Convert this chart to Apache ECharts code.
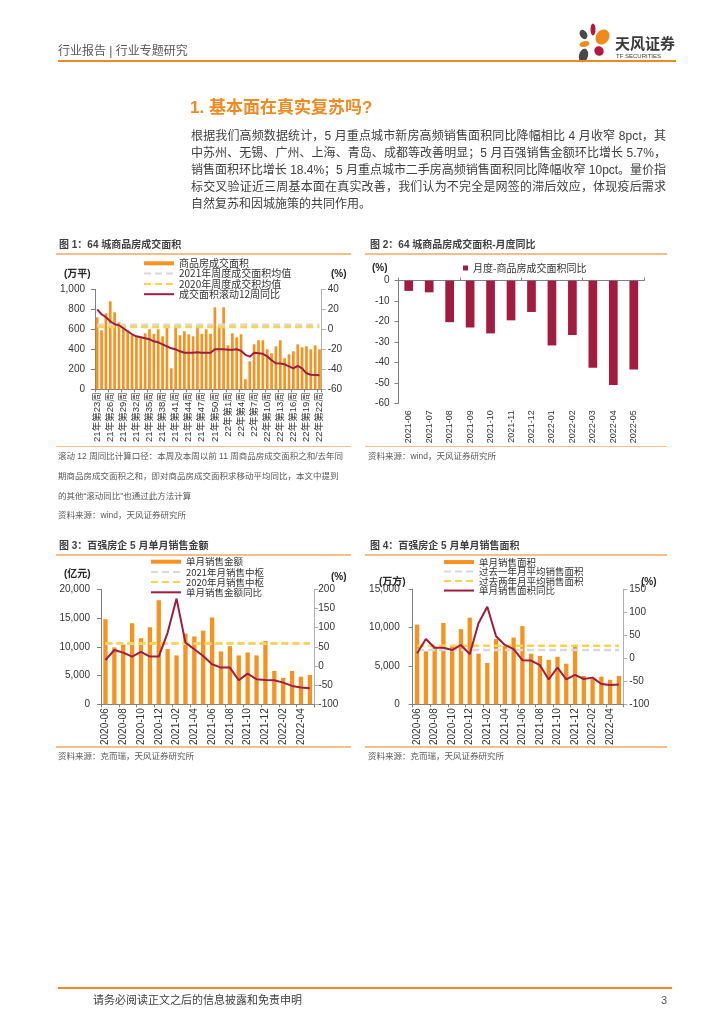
<!DOCTYPE html>
<html lang="zh-CN">
<head>
<meta charset="utf-8">
<title>基本面在真实复苏吗</title>
<script src="https://cdn.jsdelivr.net/npm/echarts/dist/echarts.min.js"></script>
<style>
  html, body { margin:0; padding:0; background:#fff; }
  #page { position:relative; width:724px; height:1024px; overflow:hidden; background:#fff;
          font-family:"Liberation Sans","Noto Sans CJK SC",sans-serif; }
  #chart { position:absolute; left:0; top:0; width:724px; height:1024px; z-index:1; }
  .t { position:absolute; white-space:nowrap; z-index:2; }
  .rule { position:absolute; z-index:2; }
  .p { position:absolute; left:191px; font-size:12px; height:17px; line-height:17px;
       color:#404040; white-space:nowrap; z-index:2; }
  .figt { font-size:10px; font-weight:bold; color:#404040; line-height:14px; height:14px; }
  .note { font-size:8.5px; color:#595959; line-height:12px; height:12px; }
  .unit { font-size:10px; color:#262626; line-height:12px; height:12px; font-weight:bold; }
</style>
</head>
<body>
<div id="page">
  <div id="chart"></div>

  <!-- header -->
  <div class="t" style="left:58px;top:43px;font-size:12px;line-height:16px;color:#595959;">行业报告 | 行业专题研究</div>
  <svg class="t" style="left:570px;top:20px;" width="50" height="46" viewBox="570 20 50 46">
    <ellipse cx="583.5" cy="34.5" rx="3.5" ry="5" fill="#4a4a4a" transform="rotate(-30 583.5 34.5)"/>
    <ellipse cx="593" cy="29.5" rx="2.5" ry="6" fill="#B5173D"/>
    <ellipse cx="602.5" cy="37" rx="6.5" ry="8" fill="#F08A1C" transform="rotate(35 602.5 37)"/>
    <ellipse cx="584.5" cy="44" rx="5" ry="2.8" fill="#F08A1C" transform="rotate(-15 584.5 44)"/>
    <ellipse cx="599" cy="51" rx="4.5" ry="5" fill="#B5173D" transform="rotate(-40 599 51)"/>
    <ellipse cx="583.5" cy="55.5" rx="4.5" ry="7" fill="#4a4a4a" transform="rotate(15 583.5 55.5)"/>
  </svg>
  <div class="t" style="left:615px;top:35px;font-size:15px;line-height:18px;font-weight:bold;color:#3a3a3a;">天风证券</div>
  <div class="t" style="left:616px;top:52.5px;font-size:6px;line-height:7px;color:#3a3a3a;">TF SECURITIES</div>
  <div class="rule" style="left:58px;top:60px;width:618px;height:2px;background:#EE8A23;"></div>

  <!-- title & paragraph -->
  <div class="t" style="left:190px;top:97px;font-size:17px;line-height:22px;font-weight:bold;color:#F18A21;">1. 基本面在真实复苏吗?</div>
  <div class="p jus" style="top:128px;">根据我们高频数据统计，5 月重点城市新房高频销售面积同比降幅相比 4 月收窄 8pct，其</div>
  <div class="p jus" style="top:145px;">中苏州、无锡、广州、上海、青岛、成都等改善明显；5 月百强销售金额环比增长 5.7%，</div>
  <div class="p jus" style="top:162px;">销售面积环比增长 18.4%；5 月重点城市二手房高频销售面积同比降幅收窄 10pct。量价指</div>
  <div class="p jus" style="top:179px;">标交叉验证近三周基本面在真实改善，我们认为不完全是网签的滞后效应，体现疫后需求</div>
  <div class="p" style="top:196px;">自然复苏和因城施策的共同作用。</div>

  <!-- figure titles row 1 -->
  <div class="t figt" style="left:59px;top:238px;">图 1：64 城商品房成交面积</div>
  <div class="t figt" style="left:370px;top:238px;">图 2：64 城商品房成交面积-月度同比</div>
  <div class="rule" style="left:56px;top:253px;width:295px;height:1.5px;background:#F7BE8A;"></div>
  <div class="rule" style="left:365px;top:253px;width:302px;height:1.5px;background:#F7BE8A;"></div>

  <div class="t unit" style="left:64px;top:268px;">(万平)</div>
  <div class="t unit" style="left:331px;top:268px;">(%)</div>
  <div class="t unit" style="left:372px;top:262px;">(%)</div>

  <div class="rule" style="left:56px;top:445.5px;width:295px;height:1.5px;background:#F7BE8A;"></div>
  <div class="rule" style="left:365px;top:445.5px;width:302px;height:1.5px;background:#F7BE8A;"></div>

  <div class="t note" style="left:58px;top:450px;">滚动 12 周同比计算口径：本周及本周以前 11 周商品房成交面积之和/去年同</div>
  <div class="t note" style="left:58px;top:470px;">期商品房成交面积之和，即对商品房成交面积求移动平均同比，本文中提到</div>
  <div class="t note" style="left:58px;top:490px;">的其他“滚动同比”也通过此方法计算</div>
  <div class="t note" style="left:58px;top:509px;">资料来源：wind，天风证券研究所</div>
  <div class="t note" style="left:368px;top:450px;">资料来源：wind，天风证券研究所</div>

  <!-- figure titles row 2 -->
  <div class="t figt" style="left:59px;top:539px;">图 3：百强房企 5 月单月销售金额</div>
  <div class="t figt" style="left:370px;top:539px;">图 4：百强房企 5 月单月销售面积</div>
  <div class="rule" style="left:56px;top:554px;width:295px;height:1.5px;background:#F7BE8A;"></div>
  <div class="rule" style="left:365px;top:554px;width:302px;height:1.5px;background:#F7BE8A;"></div>

  <div class="t unit" style="left:64px;top:568px;">(亿元)</div>
  <div class="t unit" style="left:331px;top:571px;">(%)</div>
  <div class="t unit" style="left:379px;top:576px;">(万方)</div>
  <div class="t unit" style="left:641px;top:576px;">(%)</div>

  <div class="rule" style="left:56px;top:746px;width:295px;height:1.5px;background:#F7BE8A;"></div>
  <div class="rule" style="left:365px;top:746px;width:302px;height:1.5px;background:#F7BE8A;"></div>
  <div class="t note" style="left:58px;top:750px;">资料来源：克而瑞，天风证券研究所</div>
  <div class="t note" style="left:368px;top:750px;">资料来源：克而瑞，天风证券研究所</div>

  <!-- footer -->
  <div class="rule" style="left:58px;top:987px;width:614px;height:2px;background:#EE8A23;"></div>
  <div class="t" style="left:93px;top:993px;font-size:11px;line-height:14px;color:#404040;">请务必阅读正文之后的信息披露和免责申明</div>
  <div class="t" style="left:661px;top:993px;font-size:11px;line-height:14px;color:#595959;">3</div>
</div>

<script>
// ---------- data ----------
const weeks1 = ['21年第23周','21年第24周','21年第25周','21年第26周','21年第27周','21年第28周','21年第29周','21年第30周','21年第31周','21年第32周',
  '21年第33周','21年第34周','21年第35周','21年第36周','21年第37周','21年第38周','21年第39周','21年第40周','21年第41周','21年第42周',
  '21年第43周','21年第44周','21年第45周','21年第46周','21年第47周','21年第48周','21年第49周','21年第50周','21年第51周','21年第52周',
  '22年第1周','22年第2周','22年第3周','22年第4周','22年第5周','22年第6周','22年第7周','22年第8周','22年第9周','22年第10周',
  '22年第11周','22年第12周','22年第13周','22年第14周','22年第15周','22年第16周','22年第17周','22年第18周','22年第19周','22年第20周',
  '22年第21周','22年第22周'];
const area1 = [720,590,760,880,770,670,610,590,540,530,530,560,600,555,600,530,650,210,640,540,
  580,550,530,630,555,600,555,820,650,820,440,560,520,550,100,280,450,490,490,400,
  360,430,490,310,350,380,450,420,430,400,440,400];
const avg2021_1 = 645;
const avg2020_1 = 622;
const roll12_1 = [20,15,12,8,5,4,1,-2,-5,-7,-8,-9,-10,-12,-13,-15,-17,-19,-20,-22,
  -23.5,-23.5,-23.5,-23,-23.5,-23.5,-23.5,-20,-20,-20,-20.5,-20.5,-20,-21.5,-25.5,-27.4,-23.5,-24,-24.5,-27,
  -31,-34,-34.3,-35,-37,-39,-36.5,-39,-44,-45.5,-45.7,-46];

const months2 = ['2021-06','2021-07','2021-08','2021-09','2021-10','2021-11','2021-12','2022-01','2022-02','2022-03','2022-04','2022-05'];
const yoy2 = [-5.0,-5.7,-20.3,-22.9,-25.8,-19.4,-15.3,-31.7,-26.6,-42.6,-51.1,-43.4];

const months3 = ['2020-06','2020-07','2020-08','2020-09','2020-10','2020-11','2020-12','2021-01','2021-02','2021-03','2021-04','2021-05',
  '2021-06','2021-07','2021-08','2021-09','2021-10','2021-11','2021-12','2022-01','2022-02','2022-03','2022-04','2022-05'];
const sales3 = [14800,9900,10400,14100,11500,13400,18100,9600,8500,12300,11800,12800,
  15100,9200,10100,8500,9000,8500,11000,5800,4600,5800,4800,5100];
const center2021_3 = 10530;
const center2020_3 = 10600;
const yoy3 = [15.6,41.7,34.9,24.5,36.5,24.5,24.5,87,175.8,61,43.5,26,
  4.4,-4.3,-4.3,-37.3,-20,-34.7,-36.5,-37.3,-43.5,-52,-56.3,-58];

const months4 = months3;
const area4 = [10400,6900,7500,10600,7700,9800,11300,6600,5400,8500,7600,8700,
  10200,6600,6300,5800,6200,5300,7500,3700,3300,3600,3200,3700];
const avg1y4 = 7080;
const avg2y4 = 7640;
const yoy4 = [11,42,23,23,18,29,9,76,112,48,29,20,
  -4,-5,-15,-46,-20,-46,-36,-45,-42,-56,-58,-57];

// ---------- paragraph justification (fit each full line to the text column) ----------
document.querySelectorAll('.p.jus').forEach(el => {
  const target = 475;
  const n = Array.from(el.textContent).length;
  const w = el.getBoundingClientRect().width;
  el.style.letterSpacing = ((target - w) / (n - 1)).toFixed(3) + 'px';
});

// ---------- styles ----------
const ORANGE = '#F7921E', RED = '#A01C3F', CRIMSON = '#A21C41', GRAYD = '#D9D9D9', YELLOW = '#FFD24D';
const FONT = 'Liberation Sans, Noto Sans CJK SC, sans-serif';
const LFONT = 'Noto Sans CJK SC, sans-serif';
const AXC = '#808080', AXR = '#B0B0B0';
const thousands = v => String(v).replace(/\B(?=(\d{3})+(?!\d))/g, ',');
const lbl = (o) => Object.assign({fontFamily: FONT, color: '#333', fontSize: 10}, o);
const noSym = name => ({name: name, itemStyle: {opacity: 0}});

function catAxis(gi, data, o) {
  return Object.assign({
    type: 'category', gridIndex: gi, data: data, boundaryGap: true,
    axisLine: {onZero: false, lineStyle: {color: AXC, width: 1}},
    axisTick: {show: true, length: 3, lineStyle: {color: AXC}},
    splitLine: {show: false}
  }, o);
}
function valAxis(gi, min, max, interval, o) {
  return Object.assign({
    type: 'value', gridIndex: gi, min: min, max: max, interval: interval,
    splitLine: {show: false},
    axisLine: {show: true, lineStyle: {color: AXC, width: 1}},
    axisTick: {show: true, length: 4, inside: false, lineStyle: {color: AXC}}
  }, o);
}
const constLine = (cats, v) => cats.map(() => v);

const chart = echarts.init(document.getElementById('chart'), null, {renderer: 'canvas'});
const option = {
  animation: false,
  backgroundColor: 'transparent',
  grid: [
    {left: 95, top: 289.3, width: 226.7, height: 100, outerBoundsMode: 'none'},
    {left: 398.5, top: 280.7, width: 245.5, height: 122.6, outerBoundsMode: 'none'},
    {left: 101, top: 589.3, width: 213.3, height: 115, outerBoundsMode: 'none'},
    {left: 412.7, top: 589.3, width: 210.6, height: 115, outerBoundsMode: 'none'}
  ],
  xAxis: [
    catAxis(0, weeks1, {
      axisTick: {show: true, interval: 2, length: 3, lineStyle: {color: AXC}},
      axisLabel: lbl({interval: 2, rotate: 90, margin: 3, fontSize: 9.5})
    }),
    catAxis(1, months2, {
      position: 'top',
      axisLabel: {show: false}
    }),
    catAxis(1, months2, {
      position: 'bottom',
      axisLine: {show: false, onZero: false}, axisTick: {show: false},
      axisLabel: lbl({interval: 0, rotate: 90, margin: 7, fontSize: 9})
    }),
    catAxis(2, months3, {
      axisTick: {show: true, interval: 1, length: 3, lineStyle: {color: AXC}},
      axisLabel: lbl({interval: 1, rotate: 90, margin: 4, fontSize: 10})
    }),
    catAxis(3, months4, {
      axisTick: {show: true, interval: 1, length: 3, lineStyle: {color: AXC}},
      axisLabel: lbl({interval: 1, rotate: 90, margin: 4, fontSize: 10})
    })
  ],
  yAxis: [
    valAxis(0, 0, 1000, 200, {position: 'left', axisLabel: lbl({margin: 10, formatter: thousands})}),
    valAxis(0, -60, 40, 20, {position: 'right',
      axisLine: {show: true, lineStyle: {color: AXR}}, axisTick: {show: true, length: 4, lineStyle: {color: AXR}},
      axisLabel: lbl({margin: 6})}),
    valAxis(1, -60, 0, 10, {position: 'left', axisLabel: lbl({margin: 9})}),
    valAxis(2, 0, 20000, 5000, {position: 'left', axisLabel: lbl({margin: 11, formatter: thousands})}),
    valAxis(2, -100, 200, 50, {position: 'right',
      axisLine: {show: true, lineStyle: {color: AXR}}, axisTick: {show: true, length: 4, lineStyle: {color: AXR}},
      axisLabel: lbl({margin: 4})}),
    valAxis(3, 0, 15000, 5000, {position: 'left', axisLabel: lbl({margin: 13, formatter: thousands})}),
    valAxis(3, -100, 150, 50, {position: 'right',
      axisLine: {show: true, lineStyle: {color: AXR}}, axisTick: {show: true, length: 4, lineStyle: {color: AXR}},
      axisLabel: lbl({margin: 6})})
  ],
  legend: [
    {orient: 'vertical', left: 143, top: 258.3, padding: 0, itemWidth: 30, itemHeight: 4, itemGap: 0.3,
      selectedMode: false,
      textStyle: {fontSize: 10, lineHeight: 10, color: '#333', fontFamily: LFONT},
      data: [{name: '商品房成交面积', icon: 'rect'}, noSym('2021年周度成交面积均值'), noSym('2020年周度成交积均值'), noSym('成交面积滚动12周同比')]},
    {orient: 'horizontal', left: 463, top: 263, padding: 0, itemWidth: 5, itemHeight: 5,
      selectedMode: false,
      textStyle: {fontSize: 10, lineHeight: 10, color: '#333', fontFamily: LFONT},
      data: [{name: '月度-商品房成交面积同比', icon: 'rect'}]},
    {orient: 'vertical', left: 150, top: 556.7, padding: 0, itemWidth: 30, itemHeight: 4, itemGap: 0.2,
      selectedMode: false,
      textStyle: {fontSize: 9.5, lineHeight: 10, color: '#333', fontFamily: LFONT},
      data: [{name: '单月销售金额', icon: 'rect'}, noSym('2021年月销售中枢'), noSym('2020年月销售中枢'), noSym('单月销售金额同比')]},
    {orient: 'vertical', left: 443, top: 557.3, padding: 0, itemWidth: 30, itemHeight: 4, itemGap: 0,
      selectedMode: false,
      textStyle: {fontSize: 9.5, lineHeight: 8.7, color: '#333', fontFamily: LFONT},
      data: [{name: '单月销售面积', icon: 'rect'}, noSym('过去一年月平均销售面积'), noSym('过去两年月平均销售面积'), noSym('单月销售面积同比')]}
  ],
  series: [
    // chart 1
    {name: '商品房成交面积', type: 'bar', xAxisIndex: 0, yAxisIndex: 0, data: area1, barWidth: 2.7,
      itemStyle: {color: ORANGE}, z: 2},
    {name: '2021年周度成交面积均值', type: 'line', xAxisIndex: 0, yAxisIndex: 0, data: constLine(weeks1, avg2021_1),
      symbol: 'none', lineStyle: {color: GRAYD, width: 2.5, type: [7, 4]}, z: 3},
    {name: '2020年周度成交积均值', type: 'line', xAxisIndex: 0, yAxisIndex: 0, data: constLine(weeks1, avg2020_1),
      symbol: 'none', lineStyle: {color: YELLOW, width: 2.5, type: [7, 4]}, z: 3},
    {name: '成交面积滚动12周同比', type: 'line', xAxisIndex: 0, yAxisIndex: 1, data: roll12_1,
      symbol: 'none', lineStyle: {color: RED, width: 2}, z: 4},
    // chart 2
    {name: '月度-商品房成交面积同比', type: 'bar', xAxisIndex: 1, yAxisIndex: 2, data: yoy2, barWidth: 8.7,
      itemStyle: {color: CRIMSON}},
    // chart 3
    {name: '单月销售金额', type: 'bar', xAxisIndex: 3, yAxisIndex: 3, data: sales3, barWidth: 4.3,
      itemStyle: {color: ORANGE}, z: 2},
    {name: '2021年月销售中枢', type: 'line', xAxisIndex: 3, yAxisIndex: 3, data: constLine(months3, center2021_3),
      symbol: 'none', lineStyle: {color: GRAYD, width: 2.5, type: [7, 4]}, z: 3},
    {name: '2020年月销售中枢', type: 'line', xAxisIndex: 3, yAxisIndex: 3, data: constLine(months3, center2020_3),
      symbol: 'none', lineStyle: {color: YELLOW, width: 2.5, type: [7, 4]}, z: 3},
    {name: '单月销售金额同比', type: 'line', xAxisIndex: 3, yAxisIndex: 4, data: yoy3,
      symbol: 'none', lineStyle: {color: RED, width: 2}, z: 4},
    // chart 4
    {name: '单月销售面积', type: 'bar', xAxisIndex: 4, yAxisIndex: 5, data: area4, barWidth: 4.3,
      itemStyle: {color: ORANGE}, z: 2},
    {name: '过去一年月平均销售面积', type: 'line', xAxisIndex: 4, yAxisIndex: 5, data: constLine(months4, avg1y4),
      symbol: 'none', lineStyle: {color: GRAYD, width: 2.5, type: [7, 4]}, z: 3},
    {name: '过去两年月平均销售面积', type: 'line', xAxisIndex: 4, yAxisIndex: 5, data: constLine(months4, avg2y4),
      symbol: 'none', lineStyle: {color: YELLOW, width: 2.5, type: [7, 4]}, z: 3},
    {name: '单月销售面积同比', type: 'line', xAxisIndex: 4, yAxisIndex: 6, data: yoy4,
      symbol: 'none', lineStyle: {color: RED, width: 2}, z: 4}
  ]
};
chart.setOption(option);
</script>
</body>
</html>
